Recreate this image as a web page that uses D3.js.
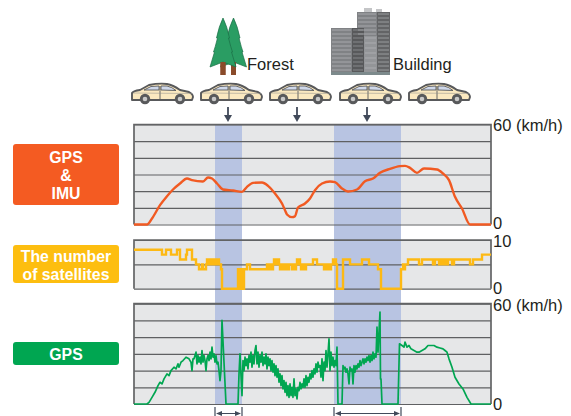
<!DOCTYPE html>
<html>
<head>
<meta charset="utf-8">
<script src="https://cdn.jsdelivr.net/npm/d3@7"></script>
<style>
  html, body { margin: 0; padding: 0; background: #fff; }
  svg { display: block; }
  text { font-family: "Liberation Sans", Arial, sans-serif; }
</style>
</head>
<body>
<svg id="chart" width="571" height="416"></svg>
<script>
// Values, time is in arbitrary units along the run
const imuData = [[0,0],[13,0],[18,3.6],[26,11.6],[33,17],[39,21],[46,24.6],[53,27.6],[58,26.6],[69,25.8],[74,28.2],[78,27.6],
  [83,24.6],[89,21],[99,20.4],[108,19.6],[113,22.6],[119,25],[128,25.2],[134,23.2],[141,18.6],[148,12.6],[151,8.6],[153,6],
  [158,4.4],[161,5],[164,10.2],[171,12.6],[176,15.6],[181,20.6],[188,24.6],[196,25.8],[201,25.4],[208,21.6],[214,19.8],
  [223,21],[231,26],[239,27.6],[246,31],[256,33.4],[266,35],[271,35.2],[276,34],[283,31],[290,33.6],[303,33],[309,30.6],
  [315,26.6],[321,16.6],[328,9.6],[336,0],[357,0]];

const satelliteData = [[0,8],[28,7],[32,8],[37,7],[43,8],[46,6],[52,7],[53,8],[58,6],[62,5],[65,4],[68,5],[69,4],[72,5],
  [73,6],[74,5],[75,6],[76,5],[77,6],[78,5],[79,6],[80,5],[81,6],[82,5],[83,6],[85,5],[87,4],[88,0],[104,4],[105,0],[106,4],
  [107,0],[108,4],[109,0],[110,4],[113,5],[116,4],[133,5],[134,4],[135,5],[136,4],[137,5],[138,4],[139,5],[140,6],[141,5],
  [142,6],[143,5],[144,6],[145,5],[146,4],[147,5],[148,4],[149,5],[150,4],[151,5],[153,4],[155,5],[158,4],[160,5],[161,4],
  [162,5],[163,6],[164,5],[165,6],[166,5],[167,4],[168,5],[169,4],[170,5],[171,4],[172,5],[179,6],[183,5],[189,5],[190,4],
  [191,5],[192,4],[193,5],[194,4],[195,5],[196,4],[197,5],[199,6],[200,5],[201,6],[202,5],[203,0],[209,6],[216,5],[228,6],
  [235,5],[244,4],[247,0],[267,4],[269,5],[270,4],[271,5],[274,6],[285,5],[288,6],[299,5],[301,6],[305,5],[306,6],[307,5],
  [308,6],[309,5],[310,6],[311,5],[312,6],[313,5],[314,6],[318,5],[320,6],[336,5],[339,6],[348,7],[357,7]];

const gpsData = [[0,0],[13,0],[15,1],[18,4],[21,7],[24,11],[26,13],[28,12],[30,15],[33,18],[35,17],[37,20],[40,22],[42,21],
  [44,24],[45,22],[47,25],[49,26],[52,28],[55,27],[57,25],[58,20],[59,27],[60,27],[62,31],[63,24],[64,29],[65,25],[66,28],
  [67,24],[68,32],[69,25],[70,29],[71,26],[72,20],[73,27],[74,29],[75,26],[76,31],[77,27],[78,34],[79,28],[80,30],[81,25],
  [82,29],[83,24],[84,25],[85,20],[86,14],[87,20],[88,50],[90,25],[92,0],[104,0],[105,18],[106,30],[107,17],[108,5],[109,26],
  [110,20],[111,28],[112,23],[113,27],[114,21],[115,29],[116,25],[117,31],[118,22],[119,29],[120,24],[121,32],[122,35],
  [123,24],[124,31],[125,22],[126,29],[127,25],[128,31],[129,23],[130,28],[131,24],[132,30],[133,21],[134,28],[135,23],
  [136,27],[137,20],[138,26],[139,19],[140,24],[141,17],[142,23],[143,16],[144,21],[145,13],[146,18],[147,11],[148,17],
  [149,9],[150,14],[151,7],[152,13],[153,5],[154,11],[155,4],[156,12],[157,5],[158,10],[159,4],[160,15],[161,5],[162,9],
  [163,3],[164,10],[165,8],[166,13],[167,9],[168,12],[169,10],[170,15],[171,10],[172,17],[173,11],[174,16],[175,13],
  [176,18],[177,15],[178,20],[179,16],[180,21],[181,18],[182,24],[183,19],[184,25],[185,22],[186,23],[187,16],[188,27],
  [189,14],[190,25],[191,20],[192,32],[193,22],[194,30],[195,39],[196,20],[197,31],[198,23],[199,28],[200,22],[201,26],
  [202,23],[203,34],[204,0],[208,0],[209,23],[210,21],[211,22],[212,19],[213,21],[214,18],[215,12],[216,22],[217,20],
  [218,21],[219,12],[220,23],[221,19],[222,23],[223,21],[224,24],[225,22],[226,26],[227,23],[228,25],[229,27],[230,24],
  [231,27],[232,25],[233,28],[234,26],[235,29],[236,25],[237,29],[238,26],[239,31],[240,27],[241,30],[242,28],[243,46],
  [244,31],[246,55],[246.5,15],[247,15],[248,0],[264,0],[265.5,36],[268,35],[270,34],[271,37],[273,34],[275,35],[277,33],
  [280,32],[283,31],[285,31],[288,32],[291,33],[294,35],[297,35],[300,35],[303,34],[306,33.5],[309,33],[311,32],[313,31],
  [315,27],[318,22],[321,16],[325,12],[329,9],[333,4],[337,0],[357,0]];

const speedTicks = [0, 10, 20, 30, 40, 50, 60];
const satelliteTicks = [0, 5, 10];
const shadeRanges = [[81, 108], [200, 267]];
const arrowTimes = [94, 163, 233];
const carTimes = [-3, 66, 135, 205, 274];

const svg = d3.select("#chart");

const x = d3.scaleLinear().domain([0, 357]).range([134, 491]);
const yImu = d3.scaleLinear().domain([0, 60]).range([224.5, 124.5]);
const ySat = d3.scaleLinear().domain([0, 10]).range([288.7, 240]);
const yGps = d3.scaleLinear().domain([0, 60]).range([404, 303.7]);

const panelFill = "#e6e7e8", gridColor = "#5f6062", edgeColor = "#636466";

// Panel backgrounds
[yImu, ySat, yGps].forEach(y => {
    svg.append("rect")
        .attr("x", x(0)).attr("y", y.range()[1])
        .attr("width", x(357) - x(0)).attr("height", y.range()[0] - y.range()[1])
        .attr("fill", panelFill);
});

// Shaded stretches run through all three panels
svg.selectAll(".shade")
    .data(shadeRanges)
    .enter().append("rect")
    .attr("x", d => x(d[0]))
    .attr("y", yImu.range()[1])
    .attr("width", d => x(d[1]) - x(d[0]))
    .attr("height", yGps.range()[0] - yImu.range()[1])
    .attr("fill", "#b8c4e2");

// Grid lines
function drawGrid(y, ticks) {
    const g = svg.append("g").attr("transform", `translate(${x(0)},0)`)
        .call(d3.axisLeft(y).tickValues(ticks).tickSize(-(x(357) - x(0))).tickFormat(""));
    g.select(".domain").remove();
    g.selectAll("line").attr("stroke", gridColor).attr("stroke-width", 1.2);
    // edges of the panel
    svg.append("path")
        .attr("d", `M${x(0)},${y.range()[0]}V${y.range()[1]}H${x(357)}V${y.range()[0]}`)
        .attr("fill", "none").attr("stroke", edgeColor).attr("stroke-width", 1.7);
}
drawGrid(yImu, speedTicks);
drawGrid(ySat, satelliteTicks);
drawGrid(yGps, speedTicks);

// Lines
svg.append("path")
    .attr("fill", "none").attr("stroke", "#f15a22").attr("stroke-width", 2.4)
    .attr("d", d3.line().x(d => x(d[0])).y(d => yImu(d[1])).curve(d3.curveMonotoneX)(imuData));

svg.append("path")
    .attr("fill", "none").attr("stroke", "#fdb913").attr("stroke-width", 2.4)
    .attr("d", d3.line().x(d => x(d[0])).y(d => ySat(d[1])).curve(d3.curveStepAfter)(satelliteData));

svg.append("path")
    .attr("fill", "none").attr("stroke", "#00a651").attr("stroke-width", 1.7)
    .attr("stroke-linejoin", "round")
    .attr("d", d3.line().x(d => x(d[0])).y(d => yGps(d[1]))(gpsData));

// Axis labels on the right
const rightLabels = [
    { text: "60 (km/h)", y: 131 }, { text: "0", y: 229 },
    { text: "10", y: 247 }, { text: "0", y: 294 },
    { text: "60 (km/h)", y: 310.5 }, { text: "0", y: 409.5 }
];
svg.selectAll(".rlabel")
    .data(rightLabels)
    .enter().append("text")
    .attr("x", 493).attr("y", d => d.y)
    .attr("font-size", 16.5).attr("fill", "#231f20")
    .text(d => d.text);

// Boxes on the left
const boxes = [
    { lines: ["GPS", "&", "IMU"], y: 144, h: 61, fill: "#f45b22", first: 163 },
    { lines: ["The number", "of satellites"], y: 245, h: 38, fill: "#fdbe10", first: 262 },
    { lines: ["GPS"], y: 342, h: 23, fill: "#00a651", first: 360 }
];
boxes.forEach(b => {
    svg.append("rect").attr("x", 13).attr("y", b.y).attr("width", 106).attr("height", b.h)
        .attr("rx", 3).attr("fill", b.fill);
    b.lines.forEach((t, i) => {
        svg.append("text").attr("x", 66).attr("y", b.first + i * 17.8)
            .attr("text-anchor", "middle").attr("font-weight", "bold").attr("font-size", 15.8)
            .attr("fill", "#fff").text(t);
    });
});

// Arrows from the cars to the chart
const arrowColor = "#414a5a";
arrowTimes.forEach(t => {
    const a = svg.append("g").attr("transform", `translate(${x(t)},107)`);
    a.append("line").attr("y1", 0).attr("y2", 10).attr("stroke", arrowColor).attr("stroke-width", 1.8);
    a.append("path").attr("d", "M-4,8 L4,8 L0,15 Z").attr("fill", arrowColor);
});

// Cars
function drawCar(left) {
    const g = svg.append("g").attr("transform", `translate(${left},83)`);
    g.append("path")
        .attr("d", "M1,16 L1,10 Q2,8 9,7 L18,2 Q28,0 36,1 Q42,2 49,7 L58,9 Q62,11 62,14 L61,17 L1,17 Z")
        .attr("fill", "#fbe9c0").attr("stroke", "#58595b").attr("stroke-width", 1.9).attr("stroke-linejoin", "round");
    g.append("path").attr("d", "M13,7 L20,3.5 L28,3 L28,7 Z").attr("fill", "#cfd8ea").attr("stroke", "#58595b").attr("stroke-width", 0.9);
    g.append("path").attr("d", "M30,3 L36,3 Q41,4 45,7.5 L30,7 Z").attr("fill", "#cfd8ea").attr("stroke", "#58595b").attr("stroke-width", 0.9);
    g.append("line").attr("x1", 29).attr("x2", 29).attr("y1", 3).attr("y2", 16).attr("stroke", "#58595b").attr("stroke-width", 0.9);
    g.append("line").attr("x1", 2).attr("x2", 61).attr("y1", 10).attr("y2", 10.5).attr("stroke", "#8a8a8a").attr("stroke-width", 0.5);
    [14, 49].forEach(cx => {
        g.append("circle").attr("cx", cx).attr("cy", 16).attr("r", 5.2).attr("fill", "#58595b");
        g.append("circle").attr("cx", cx).attr("cy", 16).attr("r", 2.3).attr("fill", "#c9c9c9");
    });
}
carTimes.forEach(t => drawCar(x(t)));

// Trees
function drawTree(cx) {
    svg.append("rect").attr("x", cx - 2.5).attr("y", 60).attr("width", 5).attr("height", 15).attr("fill", "#8a4b2a");
    svg.append("path")
        .attr("d", `M${cx},18 Q${cx + 4},26 ${cx + 6.5},38 L${cx + 5.5},38 Q${cx + 8},48 ${cx + 9.5},52 L${cx + 8.5},52 L${cx + 13},67 L${cx},62 L${cx - 13},67 L${cx - 8.5},52 L${cx - 9.5},52 Q${cx - 8},48 ${cx - 5.5},38 L${cx - 6.5},38 Q${cx - 4},26 ${cx},18 Z`)
        .attr("fill", "#2a9d63").attr("stroke", "#1b6f46").attr("stroke-width", 0.7);
    svg.append("rect").attr("x", cx - 2.5).attr("y", 62).attr("width", 5).attr("height", 13).attr("fill", "#8a4b2a");
}
drawTree(233.5);
drawTree(223);

svg.append("text").attr("x", 247).attr("y", 70).attr("font-size", 16.5).attr("fill", "#231f20").text("Forest");
svg.append("text").attr("x", 393).attr("y", 70).attr("font-size", 16.5).attr("fill", "#231f20").text("Building");

// Buildings
function floors(left, width, top, bottom, step, color) {
    for (let yy = top + 2; yy < bottom - 1; yy += step) {
        svg.append("line").attr("x1", left + 1).attr("x2", left + width - 1).attr("y1", yy).attr("y2", yy)
            .attr("stroke", color).attr("stroke-width", 0.8);
    }
}
[[364, 8, 8, 4, "#c4c5c7"], [376, 9, 6, 3, "#c4c5c7"],
 [357, 12, 20, 63, "#808285"], [377, 12, 13, 63, "#636466"],
 [331, 28, 22, 47, "#808285"], [352, 28, 12, 47, "#58595b"], [364, 36, 13, 39, "#939598"]].forEach(r => {
    svg.append("rect").attr("x", r[0]).attr("y", r[1]).attr("width", r[2]).attr("height", r[3]).attr("fill", r[4]);
});
floors(357, 20, 12, 36, 4, "#b1b3b6");
floors(377, 13, 12, 75, 4, "#a7a9ac");
floors(331, 21, 28, 72, 4, "#b1b3b6");
floors(352, 12, 28, 75, 4, "#939598");
floors(364, 13, 36, 75, 5, "#b1b3b6");
svg.append("rect").attr("x", 331).attr("y", 72).attr("width", 59).attr("height", 3).attr("fill", "#7d8a8c");

// Brackets under the chart
shadeRanges.forEach(r => {
    const x0 = x(r[0]), x1 = x(r[1]), c = "#414a5a";
    svg.append("path").attr("d", `M${x0},407V416M${x1},407V416M${x0 + 2},413.5H${x1 - 2}`)
        .attr("fill", "none").attr("stroke", c).attr("stroke-width", 1.2);
    svg.append("path").attr("d", `M${x0 + 1},413.5l6,-2.5v5ZM${x1 - 1},413.5l-6,-2.5v5Z`).attr("fill", c);
});
</script>
</body>
</html>
